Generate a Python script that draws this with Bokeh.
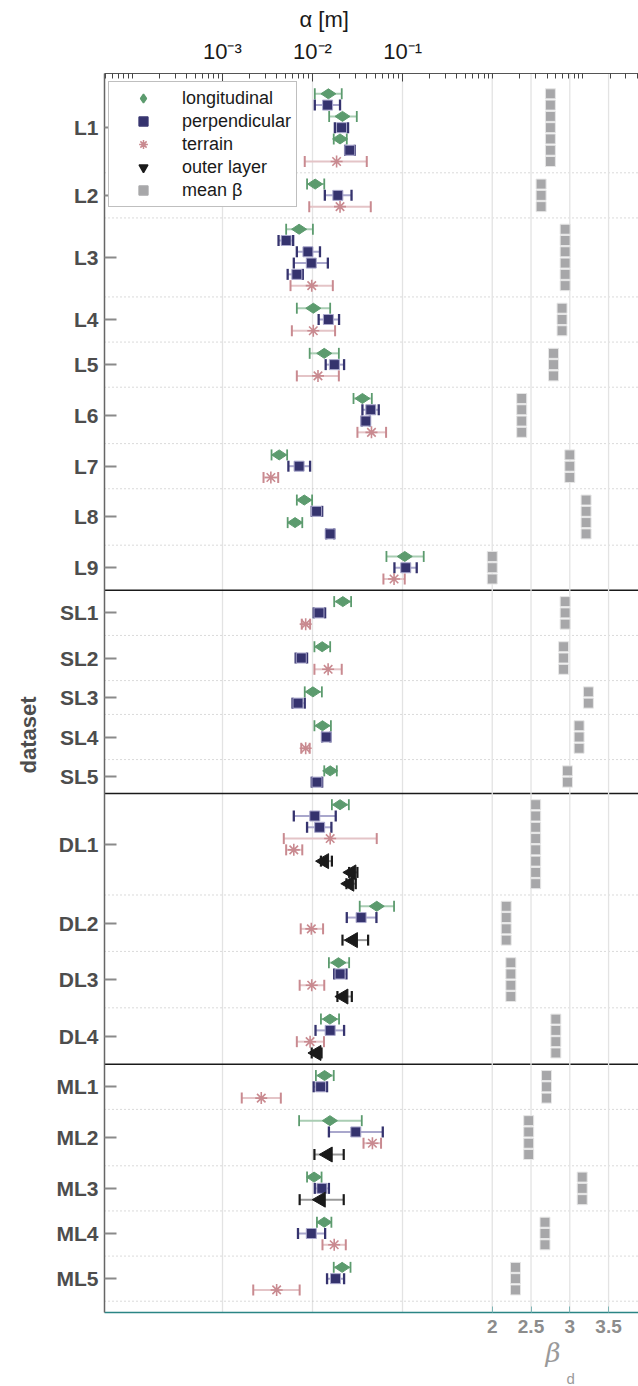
import math
import numpy as np
from bokeh.plotting import figure
from bokeh.models import (Range1d, LinearScale, LinearAxis, FixedTicker, Span,
                          Legend, LegendItem, ColumnDataSource, Title)
from bokeh.embed import file_html
from bokeh.resources import INLINE

# ---------------- data ----------------
datasets = ["L1", "L2", "L3", "L4", "L5", "L6", "L7", "L8", "L9",
            "SL1", "SL2", "SL3", "SL4", "SL5",
            "DL1", "DL2", "DL3", "DL4",
            "ML1", "ML2", "ML3", "ML4", "ML5"]
beta_mean = [2.75, 2.63, 2.94, 2.90, 2.79, 2.38, 3.00, 3.21, 2.00,
             2.94, 2.92, 3.24, 3.12, 2.97,
             2.56, 2.18, 2.24, 2.82,
             2.70, 2.47, 3.16, 2.68, 2.30]

row_dataset = (["L1"] * 7 + ["L2"] * 3 + ["L3"] * 6 + ["L4"] * 3 + ["L5"] * 3 +
               ["L6"] * 4 + ["L7"] * 3 + ["L8"] * 4 + ["L9"] * 3 +
               ["SL1"] * 3 + ["SL2"] * 3 + ["SL3"] * 2 + ["SL4"] * 3 + ["SL5"] * 2 +
               ["DL1"] * 8 + ["DL2"] * 4 + ["DL3"] * 4 + ["DL4"] * 4 +
               ["ML1"] * 3 + ["ML2"] * 4 + ["ML3"] * 3 + ["ML4"] * 3 + ["ML5"] * 3)
row_kind = ["lon", "per", "lon", "per", "lon", "per", "ter",   # L1
            "lon", "per", "ter",                               # L2
            "lon", "per", "per", "per", "per", "ter",          # L3
            "lon", "per", "ter",                               # L4
            "lon", "per", "ter",                               # L5
            "lon", "per", "per", "ter",                        # L6
            "lon", "per", "ter",                               # L7
            "lon", "per", "lon", "per",                        # L8
            "lon", "per", "ter",                               # L9
            "lon", "per", "ter",                               # SL1
            "lon", "per", "ter",                               # SL2
            "lon", "per",                                      # SL3
            "lon", "per", "ter",                               # SL4
            "lon", "per",                                      # SL5
            "lon", "per", "per", "ter", "ter", "out", "out", "out",  # DL1
            "lon", "per", "ter", "out",                        # DL2
            "lon", "per", "ter", "out",                        # DL3
            "lon", "per", "ter", "out",                        # DL4
            "lon", "per", "ter",                               # ML1
            "lon", "per", "ter", "out",                        # ML2
            "lon", "per", "out",                               # ML3
            "lon", "per", "ter",                               # ML4
            "lon", "per", "ter"]                               # ML5
alpha = [0.0150, 0.0147, 0.0215, 0.0210, 0.0202, 0.0259, 0.0185,
         0.0107, 0.0191, 0.0202,
         0.0071, 0.0051, 0.0089, 0.0097, 0.0067, 0.0098,
         0.0102, 0.0150, 0.0102,
         0.0135, 0.0175, 0.0115,
         0.0358, 0.0443, 0.0390, 0.0451,
         0.00427, 0.0071, 0.00345,
         0.0081, 0.0111, 0.0064, 0.0157,
         0.1055, 0.1082, 0.0803,
         0.0217, 0.0118, 0.0084,
         0.0128, 0.0075, 0.0149,
         0.0101, 0.0069,
         0.0129, 0.0142, 0.0084,
         0.0157, 0.0112,
         0.0202, 0.0106, 0.0120, 0.0157, 0.0062, 0.0135, 0.0271, 0.0257,
         0.0516, 0.0346, 0.0097, 0.0282,
         0.0194, 0.0202, 0.0098, 0.0221,
         0.0156, 0.0157, 0.0094, 0.0111,
         0.0136, 0.0123, 0.0027,
         0.0156, 0.0302, 0.0462, 0.0148,
         0.0104, 0.0127, 0.0124,
         0.0135, 0.0097, 0.0174,
         0.0213, 0.0180, 0.0040]
alpha_lo = [0.0106, 0.0106, 0.0153, 0.0177, 0.0172, 0.0230, 0.0082,
            0.0087, 0.0137, 0.0092,
            0.0051, 0.0042, 0.0067, 0.0062, 0.0053, 0.0057,
            0.0067, 0.0117, 0.0059,
            0.0093, 0.0140, 0.0067,
            0.0285, 0.0358, 0.0352, 0.0315,
            0.00351, 0.0054, 0.00286,
            0.0067, 0.0098, 0.0053, 0.0142,
            0.0661, 0.0811, 0.0612,
            0.0174, 0.0103, 0.0076,
            0.0105, 0.0065, 0.0105,
            0.0082, 0.0060,
            0.0105, 0.0128, 0.0075,
            0.0135, 0.0098,
            0.0164, 0.0062, 0.0087, 0.0048, 0.0051, 0.0124, 0.0255, 0.0238,
            0.0334, 0.0240, 0.0074, 0.0215,
            0.0152, 0.0174, 0.0072, 0.0189,
            0.0124, 0.0108, 0.0067, 0.0098,
            0.0109, 0.0103, 0.00164,
            0.0071, 0.0152, 0.0368, 0.0105,
            0.0087, 0.0106, 0.0072,
            0.0112, 0.0069, 0.0129,
            0.0172, 0.0145, 0.0022]
alpha_hi = [0.0211, 0.0202, 0.0310, 0.0248, 0.0240, 0.0294, 0.0400,
            0.0135, 0.0271, 0.0443,
            0.0101, 0.0061, 0.0121, 0.0148, 0.0078, 0.0168,
            0.0157, 0.0197, 0.0178,
            0.0196, 0.0224, 0.0196,
            0.0455, 0.0543, 0.0432, 0.0655,
            0.00523, 0.0094, 0.00416,
            0.0099, 0.0128, 0.0077, 0.0174,
            0.1714, 0.1433, 0.1055,
            0.0268, 0.0138, 0.0094,
            0.0157, 0.0087, 0.0211,
            0.0127, 0.0082,
            0.0160, 0.0158, 0.0093,
            0.0186, 0.0128,
            0.0253, 0.0181, 0.0162, 0.0516, 0.0077, 0.0164, 0.0315, 0.0302,
            0.0803, 0.0512, 0.0131, 0.0414,
            0.0255, 0.0238, 0.0135, 0.0273,
            0.0197, 0.0224, 0.0134, 0.0126,
            0.0172, 0.0145, 0.00445,
            0.0352, 0.0602, 0.0576, 0.0222,
            0.0126, 0.0152, 0.0222,
            0.0162, 0.0138, 0.0234,
            0.0264, 0.0224, 0.0072]

alpha_major_ticks = [1e-3, 1e-2, 1e-1]
alpha_tick_labels = ["10\u207b\u00b3", "10\u207b\u00b2", "10\u207b\u00b9"]
beta_ticks = [2.0, 2.5, 3.0, 3.5]
beta_tick_labels = ["2", "2.5", "3", "3.5"]
legend_labels = {"lon": "longitudinal", "per": "perpendicular", "ter": "terrain",
                 "out": "outer layer", "beta": "mean \u03b2"}
alpha_title = "\u03b1 [m]"
y_title = "dataset"
beta_title = "\u03b2"
beta_sub = "d"

# ---------------- layout of rows ----------------
group_start, group_n = {}, {}
pos = 0.0
for ds in datasets:
    n = row_dataset.count(ds)
    group_start[ds] = pos
    group_n[ds] = n
    pos += n + 1

row_y = []
seen = {}
for ds in row_dataset:
    k = seen.get(ds, 0)
    row_y.append(group_start[ds] + k + 1)
    seen[ds] = k + 1

centers = [group_start[ds] + (group_n[ds] + 1) / 2 for ds in datasets]

def section(ds):
    return ds.rstrip("0123456789")

FONT = "Liberation Sans"
p = figure(width=638, height=1386, x_axis_type="log", x_axis_location="above",
           x_range=Range1d(4.92e-5, 41.4), y_range=Range1d(pos + 1.0, -0.8),
           output_backend="svg", toolbar_location=None,
           min_border_left=103, min_border_right=0, min_border_top=73, min_border_bottom=74)
p.outline_line_color = None
p.background_fill_color = "white"
p.extra_x_ranges = {"beta": Range1d(-3.0, 3.886)}
p.extra_x_scales = {"beta": LinearScale()}

# titles
p.title.text = alpha_title
p.title.align = "left"
p.title.offset = 195
p.title.text_font = FONT
p.title.text_font_size = "22px"
p.title.text_font_style = "normal"
p.title.text_color = "#1a1a1a"
p.title.standoff = 8

# grids
p.ygrid.visible = False
p.xgrid.ticker = FixedTicker(ticks=alpha_major_ticks)
p.xgrid.grid_line_color = "#e3e3e3"
p.xgrid.grid_line_width = 1.3
p.segment(x0=beta_ticks, x1=beta_ticks, y0=[p.y_range.start] * 4, y1=[p.y_range.end] * 4,
          x_range_name="beta", line_color="#e3e3e3", line_width=1.3)

# separators
for i, ds in enumerate(datasets):
    loc = group_start[ds] + group_n[ds] + 1
    if i + 1 < len(datasets) and section(datasets[i + 1]) != section(ds):
        p.add_layout(Span(location=loc, dimension="width", line_color="#1a1a1a",
                          line_width=1.5, level="underlay"))
    else:
        p.add_layout(Span(location=loc, dimension="width", line_color="#b5b5b5",
                          line_width=1, line_dash="1 3", level="underlay"))

# top alpha axis
ax = p.xaxis[0]
minor = [m * 10.0 ** e for e in range(-5, 2) for m in range(1, 10)
         if not any(abs(m * 10.0 ** e - t) < 1e-12 for t in alpha_major_ticks)]
ax.ticker = FixedTicker(ticks=alpha_major_ticks, minor_ticks=minor)
ax.major_label_overrides = dict(zip(alpha_major_ticks, alpha_tick_labels))
ax.major_label_text_font = FONT
ax.major_label_text_font_size = "22px"
ax.major_label_text_color = "#1a1a1a"
ax.major_label_standoff = 10
ax.major_tick_in = 8
ax.major_tick_out = 0
ax.minor_tick_in = 5
ax.minor_tick_out = 0
ax.axis_line_color = "#555555"
ax.major_tick_line_color = "#444444"
ax.minor_tick_line_color = "#444444"

# left axis
ya = p.yaxis[0]
ya.ticker = FixedTicker(ticks=centers)
ya.major_label_overrides = dict(zip(centers, datasets))
ya.major_label_text_font = FONT
ya.major_label_text_font_style = "bold"
ya.major_label_text_font_size = "21px"
ya.major_label_text_color = "#4d4d4d"
ya.major_label_standoff = 6
ya.major_tick_in = 12
ya.major_tick_out = 0
ya.minor_tick_line_color = None
ya.major_tick_line_color = "#8a8a8a"
ya.major_tick_line_width = 2
ya.axis_line_color = "#666666"
ya.axis_line_width = 1.5

p.add_layout(Title(text=y_title, align="left", offset=539, standoff=26, text_font=FONT,
                   text_font_size="22px", text_font_style="bold", text_color="#4d4d4d"), "left")

# bottom beta axis
bax = LinearAxis(x_range_name="beta", ticker=FixedTicker(ticks=beta_ticks),
                 major_label_overrides=dict(zip(beta_ticks, beta_tick_labels)))
bax.axis_line_color = "#2b8585"
bax.axis_line_width = 1.5
bax.major_tick_in = 6
bax.major_tick_out = 0
bax.major_tick_line_color = "#7fb5b5"
bax.minor_tick_line_color = None
bax.major_label_text_font = FONT
bax.major_label_text_font_style = "bold"
bax.major_label_text_font_size = "19px"
bax.major_label_text_color = "#8c8c8c"
bax.major_label_standoff = 7
p.add_layout(bax, "below")
p.add_layout(Title(text=beta_title, align="left", offset=441, standoff=0, text_font="DejaVu Serif",
                   text_font_size="26px", text_font_style="italic", text_color="#9a9a9a"), "below")
p.add_layout(Title(text=beta_sub, align="left", offset=462, standoff=0, text_font=FONT,
                   text_font_size="15px", text_font_style="normal", text_color="#9a9a9a"), "below")

# mean beta squares
bsrc = ColumnDataSource(dict(b=[beta_mean[datasets.index(ds)] for ds in row_dataset], y=row_y))
p.scatter(x="b", y="y", source=bsrc, x_range_name="beta", marker="square", size=10,
          fill_color="#a7a7a9", line_color="#e6e6e6", line_width=1)

styles = {
    "lon": dict(marker="diamond", size=15, angle=math.pi / 2, fill="#5c9b6e", line="#5c9b6e",
                bar="#a9cdb3", cap="#5c9b6e", capw=1.8, lw=1),
    "per": dict(marker="square", size=10, angle=0, fill="#35336e", line="#a9a7cc",
                bar="#a9a7cc", cap="#35336e", capw=2.3, lw=1),
    "ter": dict(marker="asterisk", size=12, angle=0, fill="#c98a90", line="#c98a90",
                bar="#e4c4c7", cap="#c98a90", capw=2.0, lw=1.6),
    "out": dict(marker="triangle", size=15, angle=math.pi / 2, fill="#1a1a1a", line="#1a1a1a",
                bar="#9a9a9a", cap="#1a1a1a", capw=2.2, lw=1),
}
for k, st in styles.items():
    idx = [i for i, kk in enumerate(row_kind) if kk == k]
    src = ColumnDataSource(dict(a=[alpha[i] for i in idx], lo=[alpha_lo[i] for i in idx],
                                hi=[alpha_hi[i] for i in idx], y=[row_y[i] for i in idx]))
    p.segment(x0="lo", x1="hi", y0="y", y1="y", source=src, line_color=st["bar"], line_width=2)
    for col in ("lo", "hi"):
        p.scatter(x=col, y="y", source=src, marker="dash", angle=math.pi / 2, size=11,
                  line_color=st["cap"], line_width=st["capw"])
    p.scatter(x="a", y="y", source=src, marker=st["marker"], angle=st["angle"], size=st["size"],
              fill_color=st["fill"], line_color=st["line"], line_width=st["lw"])

# legend (proxy renderers)
leg_items = []
proxy = [("lon", "diamond", "#5c9b6e", "#5c9b6e"), ("per", "square", "#35336e", "#35336e"),
         ("ter", "asterisk", "#c98a90", "#c98a90"), ("out", "inverted_triangle", "#1a1a1a", "#1a1a1a"),
         ("beta", "square", "#a7a7a9", "#a7a7a9")]
for key, mk, fc, lc in proxy:
    r = p.scatter(x=[np.nan], y=[np.nan], marker=mk, fill_color=fc, line_color=lc, line_width=1.5)
    leg_items.append(LegendItem(label=legend_labels[key], renderers=[r]))
LH = 2 * 5 + 5 * 22 + 4 * 1
legend = Legend(items=leg_items, location=(4, 1239 - 10 - LH), glyph_width=58, glyph_height=22,
                label_height=22, spacing=1, padding=5, label_standoff=10,
                label_text_font=FONT, label_text_font_size="18px", label_text_color="#1a1a1a",
                border_line_color="#808080", border_line_width=1.2, background_fill_alpha=1.0)
p.add_layout(legend)

open("out.html", "w").write(file_html(p, INLINE))
